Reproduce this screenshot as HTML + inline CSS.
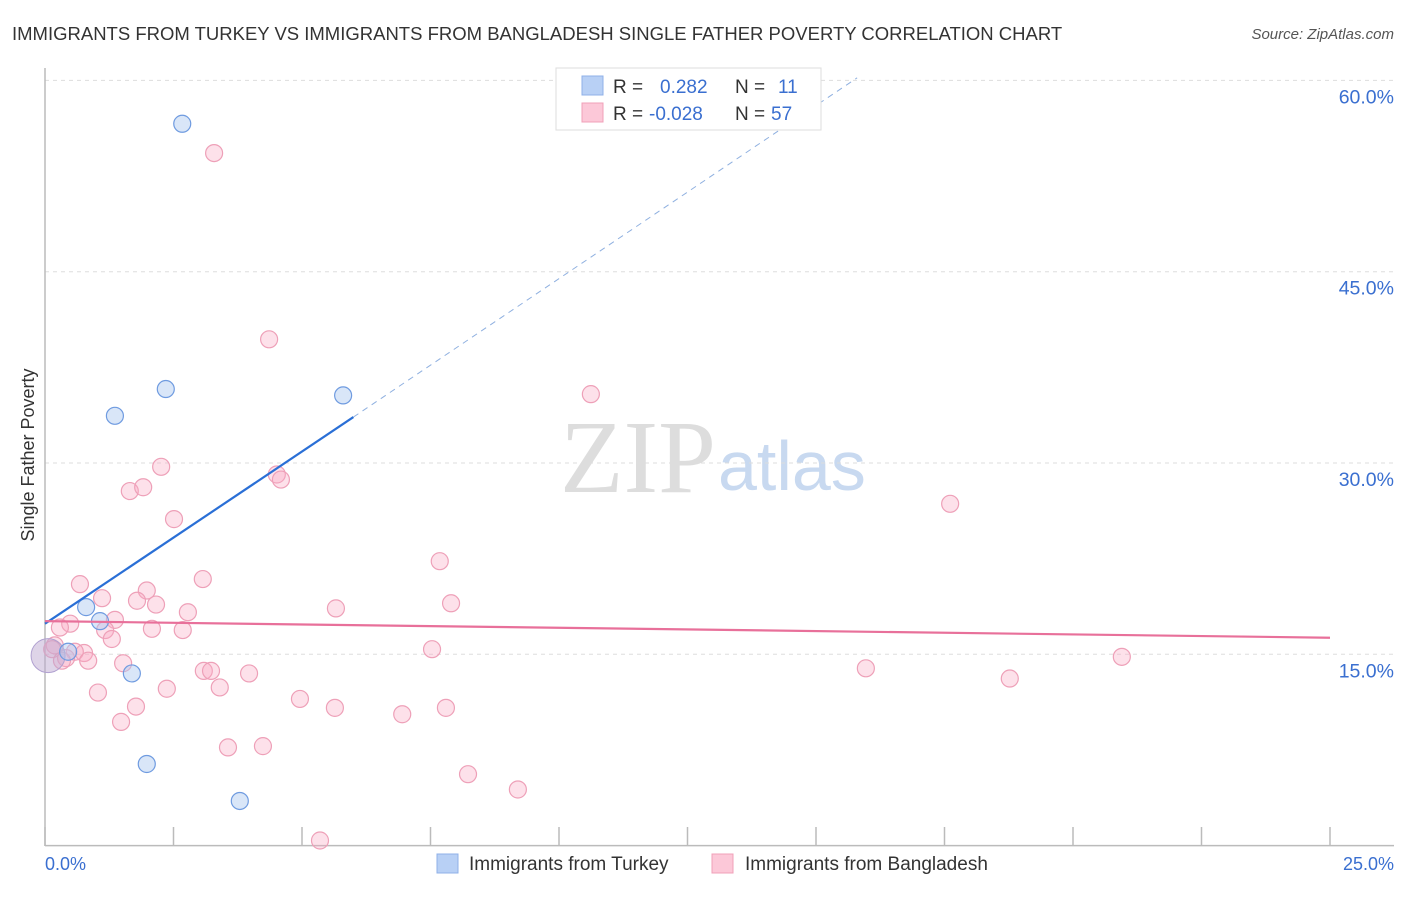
<!DOCTYPE html>
<html><head><meta charset="utf-8"><style>
body{margin:0;background:#fff;font-family:"Liberation Sans",sans-serif}
</style></head><body>
<svg width="1406" height="892" xmlns="http://www.w3.org/2000/svg" font-family="Liberation Sans, sans-serif">
<text x="12" y="40" font-size="18.5" fill="#333">IMMIGRANTS FROM TURKEY VS IMMIGRANTS FROM BANGLADESH SINGLE FATHER POVERTY CORRELATION CHART</text>
<text x="1394" y="39" font-size="15" fill="#555" font-style="italic" text-anchor="end">Source: ZipAtlas.com</text>
<text x="716" y="492" font-size="104" fill="#ddd" text-anchor="end" font-family="Liberation Serif, serif">ZIP</text>
<text x="718" y="490" font-size="70" fill="#c8d9f0">atlas</text>
<g id="grid"></g>
<g id="axes"></g>
<g id="marks"></g>
<text transform="translate(34,455) rotate(-90)" font-size="18" fill="#333" text-anchor="middle">Single Father Poverty</text>
<text x="45" y="870" font-size="18" fill="#3a6fd0">0.0%</text>
<text x="1394" y="870" font-size="18" fill="#3a6fd0" text-anchor="end">25.0%</text>
<g>
<rect x="556" y="68" width="265" height="62" fill="#fff" stroke="#ddd"/>
<rect x="582" y="76" width="21" height="19" fill="#b8d0f5" stroke="#8fb0e8"/>
<rect x="582" y="103" width="21" height="19" fill="#fcc8d8" stroke="#f0a0b8"/>
<text x="613" y="93" font-size="19" fill="#333">R = <tspan fill="#3a6fd0" x="660">0.282</tspan><tspan x="735" fill="#333">N = </tspan><tspan fill="#3a6fd0" x="778">11</tspan></text>
<text x="613" y="120" font-size="19" fill="#333">R = <tspan fill="#3a6fd0" x="649">-0.028</tspan><tspan x="735" fill="#333">N = </tspan><tspan fill="#3a6fd0" x="771">57</tspan></text>
</g>
<g>
<rect x="437" y="854" width="21" height="19" fill="#b8d0f5" stroke="#8fb0e8"/>
<text x="469" y="870" font-size="19" fill="#333">Immigrants from Turkey</text>
<rect x="712" y="854" width="21" height="19" fill="#fcc8d8" stroke="#f0a0b8"/>
<text x="745" y="870" font-size="19" fill="#333">Immigrants from Bangladesh</text>
</g>
</svg>
<script>
const yTicks=[15,30,45,60];
const yTickLabels=["15.0%","30.0%","45.0%","60.0%"];
const xTicks=[0,2.5,5,7.5,10,12.5,15,17.5,20,22.5,25];
const turkeyX=[2.67,2.35,1.36,5.80,0.80,1.07,0.45,1.69,1.98,3.79];
const turkeyY=[56.6,35.8,33.7,35.3,18.7,17.6,15.2,13.5,6.4,3.5];
const bangX=[3.29,4.36,10.62,17.61,2.26,1.65,1.91,4.51,4.59,2.51,7.68,3.07,0.68,1.98,1.11,1.79,2.16,7.90,5.66,2.78,1.36,0.49,0.29,1.17,2.08,2.68,1.30,0.19,0.76,0.58,0.84,0.41,7.53,20.95,1.52,15.97,3.09,3.23,3.97,18.77,3.40,2.37,1.03,4.96,5.64,7.80,1.77,6.95,1.48,3.56,4.24,8.23,9.20,5.35,0.14,0.33];
const bangY=[54.3,39.7,35.4,26.8,29.7,27.8,28.1,29.1,28.7,25.6,22.3,20.9,20.5,20.0,19.4,19.2,18.9,19.0,18.6,18.3,17.7,17.4,17.1,16.9,17.0,16.9,16.2,15.7,15.1,15.2,14.5,14.7,15.4,14.8,14.3,13.9,13.7,13.7,13.5,13.1,12.4,12.3,12.0,11.5,10.8,10.8,10.9,10.3,9.7,7.7,7.8,5.6,4.4,0.4,15.4,14.5];
const bigPoint=[0.06,14.9];
const turkeyTrend=[[0,17.4],[6.0,33.6]];
const turkeyTrendExt=[[6.0,33.6],[15.8,60.2]];
const bangTrend=[[0,17.6],[25,16.3]];
const NS="http://www.w3.org/2000/svg";
const sx=v=>45+v/25*1285, sy=v=>845.6-v/15*191.3;
function mk(p,t,a){const e=document.createElementNS(NS,t);for(const k in a)e.setAttribute(k,a[k]);p.appendChild(e);return e;}
const grid=document.getElementById('grid'),axes=document.getElementById('axes'),marks=document.getElementById('marks');
yTicks.forEach((t,i)=>{
 const l=mk(grid,'line',{x1:45,x2:1394,y1:sy(t),y2:sy(t),stroke:'#ddd','stroke-dasharray':'4,4'});
 
 
 const tx=mk(grid,'text',{x:1394,y:sy(t)+23,'font-size':19.5,fill:'#3a6fd0','text-anchor':'end'});
 tx.textContent=yTickLabels[i];
 
 
});
let a=mk(axes,'line',{x1:45,x2:45,y1:68,y2:846,stroke:'#bbb','stroke-width':1.5});


a=mk(axes,'line',{x1:45,x2:1394,y1:845.6,y2:845.6,stroke:'#bbb','stroke-width':1.5});


xTicks.forEach(t=>{const l=mk(axes,'line',{x1:sx(t),x2:sx(t),y1:827,y2:846,stroke:'#bbb','stroke-width':1.5});
 
 });
bangX.forEach((x,i)=>{const c=mk(marks,'circle',{cx:sx(x),cy:sy(bangY[i]),r:8.5,fill:'rgba(248,170,195,0.35)',stroke:'#eea0b8','stroke-width':1.2});
 
 });
let b=mk(marks,'circle',{cx:sx(bigPoint[0]),cy:sy(bigPoint[1]),r:17,fill:'rgba(190,170,210,0.5)',stroke:'#b0a0d0'});


turkeyX.forEach((x,i)=>{const c=mk(marks,'circle',{cx:sx(x),cy:sy(turkeyY[i]),r:8.5,fill:'rgba(170,200,240,0.45)',stroke:'#6f9be0','stroke-width':1.2});
 
 });
let t1=mk(marks,'line',{x1:sx(turkeyTrend[0][0]),y1:sy(turkeyTrend[0][1]),x2:sx(turkeyTrend[1][0]),y2:sy(turkeyTrend[1][1]),stroke:'#2a6fd6','stroke-width':2.2});


let t2=mk(marks,'line',{x1:sx(turkeyTrendExt[0][0]),y1:sy(turkeyTrendExt[0][1]),x2:sx(turkeyTrendExt[1][0]),y2:sy(turkeyTrendExt[1][1]),stroke:'#8fb0e0','stroke-width':1,'stroke-dasharray':'6,5'});


let t3=mk(marks,'line',{x1:sx(bangTrend[0][0]),y1:sy(bangTrend[0][1]),x2:sx(bangTrend[1][0]),y2:sy(bangTrend[1][1]),stroke:'#e8709a','stroke-width':2.2});


</script>
</body></html>
